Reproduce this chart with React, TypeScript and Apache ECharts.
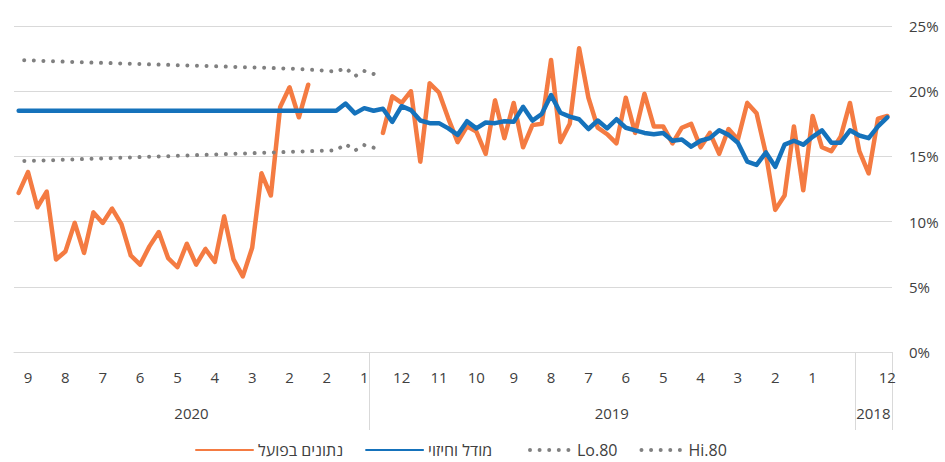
import React, { useEffect, useRef } from "react";
import * as echarts from "echarts";

// Weekly data, chronological: index 0 = first week of Dec 2018 (drawn at the right, axis is reversed)
const actual: (number | null)[] = [
  18.1, 17.9, 13.7, 15.4, 19.1, 16.5, 15.4, 15.7, 18.1, 12.4,
  17.3, 12.0, 10.9, 15.2, 18.3, 19.1, 16.3, 17.1, 15.2, 16.8,
  15.7, 17.5, 17.2, 16.0, 17.3, 17.3, 19.8, 16.8, 19.5, 16.0,
  16.7, 17.2, 19.5, 23.3, 17.5, 16.1, 22.4, 17.5, 17.4, 15.7,
  19.1, 16.4, 19.3, 15.2, 16.9, 17.3, 16.1, 17.9, 19.9, 20.6,
  14.6, 20.0, 19.1, 19.6, 16.8, null, null, null, null, null,
  null, null, 20.5, 18.0, 20.3, 18.8, 12.0, 13.7, 8.0, 5.8,
  7.1, 10.4, 6.9, 7.9, 6.7, 8.3, 6.5, 7.2, 9.2, 8.1,
  6.7, 7.4, 9.8, 11.0, 9.9, 10.7, 7.6, 9.9, 7.7, 7.1,
  12.3, 11.1, 13.8, 12.2,
];

const model: number[] = [
  18.0, 17.3, 16.4, 16.6, 17.0, 16.05, 16.05, 17.0, 16.5, 15.9,
  16.2, 15.9, 14.2, 15.3, 14.35, 14.6, 16.05, 16.65, 17.0, 16.4,
  16.2, 15.75, 16.3, 16.2, 16.8, 16.7, 16.8, 17.0, 17.2, 17.85,
  17.15, 17.75, 17.1, 17.85, 18.05, 18.35, 19.7, 18.25, 17.75, 18.8,
  17.65, 17.7, 17.55, 17.6, 17.15, 17.7, 16.65, 17.15, 17.55, 17.55,
  17.75, 18.55, 18.85, 17.65, 18.65, 18.5, 18.7, 18.3, 19.05, 18.5,
  18.5, 18.5, 18.5, 18.5, 18.5, 18.5, 18.5, 18.5, 18.5, 18.5,
  18.5, 18.5, 18.5, 18.5, 18.5, 18.5, 18.5, 18.5, 18.5, 18.5,
  18.5, 18.5, 18.5, 18.5, 18.5, 18.5, 18.5, 18.5, 18.5, 18.5,
  18.5, 18.5, 18.5, 18.5,
];

// Forecast bands start at index 55
const bandStart = 55;
const hi80Values: number[] = [
  21.32, 21.55, 21.15, 21.78, 21.50, 21.56, 21.62, 21.66, 21.70, 21.73,
  21.76, 21.78, 21.80, 21.82, 21.84, 21.87, 21.89, 21.91, 21.93, 21.95,
  21.97, 21.99, 22.02, 22.04, 22.06, 22.08, 22.10, 22.13, 22.15, 22.17,
  22.19, 22.22, 22.24, 22.26, 22.29, 22.31, 22.34, 22.37, 22.40,
];
const lo80Values: number[] = [
  15.67, 15.87, 15.45, 15.95, 15.47, 15.44, 15.42, 15.40, 15.37, 15.35,
  15.32, 15.30, 15.27, 15.25, 15.22, 15.20, 15.17, 15.15, 15.12, 15.10,
  15.07, 15.05, 15.02, 15.00, 14.97, 14.95, 14.92, 14.90, 14.87, 14.85,
  14.82, 14.80, 14.77, 14.75, 14.72, 14.70, 14.68, 14.66, 14.65,
];

const monthTickIndex = [0, 8, 12, 16, 20, 24, 28, 32, 36, 40, 44, 48, 52, 56, 60, 64, 68, 72, 76, 80, 84, 88, 92];
const monthTickText = ["12", "1", "2", "3", "4", "5", "6", "7", "8", "9", "10", "11", "12", "1", "2", "2", "3", "4", "5", "6", "7", "8", "9"];

const yearNames = ["2018", "2019", "2020"];
const yearFirst = [0, 4, 56];
const yearLast = [3, 55, 93];

const seriesNames = ["נתונים בפועל", "מודל וחיזוי", "Lo.80", "Hi.80"];

const FONT = '"Open Sans", "Liberation Sans", "DejaVu Sans", sans-serif';
const TEXT = "#404040";
const GRID = "#d9d9d9";

export default function App() {
  const ref = useRef<HTMLDivElement>(null);

  useEffect(() => {
    document.body.style.margin = "0";
    const chart = echarts.init(ref.current!, null, { renderer: "svg" });
    const n = model.length;
    const categories = Array.from({ length: n }, (_, i) => {
      const k = monthTickIndex.indexOf(i);
      return k >= 0 ? monthTickText[k] : "";
    });
    const pad = (vals: number[]) =>
      Array.from({ length: n }, (_, i) => (i >= bandStart ? vals[i - bandStart] : null));
    const hi80 = pad(hi80Values);
    const lo80 = pad(lo80Values);

    const dotted = {
      color: "#808080",
      width: 4,
      type: [0.001, 9.6] as number[],
      cap: "round" as const,
    };

    const legendBase = {
      top: 442,
      padding: 0,
      itemHeight: 14,
      itemGap: 22,
      itemStyle: { opacity: 0 },
      textStyle: { color: TEXT, fontSize: 16, fontFamily: FONT },
    };

    chart.setOption({
      animation: false,
      textStyle: { fontFamily: FONT },
      grid: { left: 14, right: 53, top: 26, bottom: 110, containLabel: false },
      legend: [
        {
          ...legendBase,
          data: seriesNames.slice(0, 2),
          left: 195,
          itemWidth: 57,
        },
        {
          ...legendBase,
          data: seriesNames.slice(2),
          left: 528,
          itemWidth: 42,
          lineStyle: { width: 4 },
        },
      ],
      xAxis: {
        type: "category",
        data: categories,
        inverse: true,
        boundaryGap: true,
        axisLine: { show: true, lineStyle: { color: GRID, width: 1 } },
        axisTick: { show: false },
        axisLabel: { interval: 0, color: TEXT, fontSize: 15, margin: 17, fontFamily: FONT },
        splitLine: { show: false },
      },
      yAxis: {
        type: "value",
        position: "right",
        min: 0,
        max: 25,
        interval: 5,
        axisLine: { show: false },
        axisTick: { show: false },
        axisLabel: {
          formatter: "{value}%",
          color: TEXT,
          fontSize: 15,
          margin: 17,
          fontFamily: FONT,
        },
        splitLine: { lineStyle: { color: GRID, width: 1 } },
      },
      series: [
        {
          name: seriesNames[0],
          type: "line",
          data: actual,
          symbol: "none",
          connectNulls: false,
          lineStyle: { color: "#F47B42", width: 4.5, join: "round", cap: "round" },
          itemStyle: { color: "#F47B42" },
          z: 2,
        },
        {
          name: seriesNames[1],
          type: "line",
          data: model,
          symbol: "none",
          lineStyle: { color: "#1572BB", width: 4.5, join: "round", cap: "round" },
          itemStyle: { color: "#1572BB" },
          z: 3,
        },
        {
          name: seriesNames[2],
          type: "line",
          data: lo80,
          symbol: "none",
          lineStyle: dotted,
          itemStyle: { color: "#808080" },
          z: 4,
        },
        {
          name: seriesNames[3],
          type: "line",
          data: hi80,
          symbol: "none",
          lineStyle: dotted,
          itemStyle: { color: "#808080" },
          z: 4,
        },
      ],
    });

    const px = (i: number) => chart.convertToPixel({ xAxisIndex: 0 }, i) as number;
    const step = Math.abs(px(1) - px(0));
    const y0 = chart.convertToPixel({ yAxisIndex: 0 }, 0) as number;
    const lineBottom = y0 + 78;

    const boundaries: number[] = [];
    for (let g = 0; g < yearNames.length; g++) {
      boundaries.push(px(yearFirst[g]) + step / 2);
    }

    const graphics: any[] = boundaries.map((x) => ({
      type: "line",
      silent: true,
      shape: { x1: Math.round(x) + 0.5, y1: y0, x2: Math.round(x) + 0.5, y2: lineBottom },
      style: { stroke: GRID, lineWidth: 1 },
    }));

    yearNames.forEach((name, g) => {
      const xc = (px(yearFirst[g]) + px(yearLast[g])) / 2;
      graphics.push({
        type: "text",
        silent: true,
        x: xc,
        y: y0 + 61,
        style: {
          text: name,
          fill: TEXT,
          font: `15px ${FONT}`,
          align: "center",
          verticalAlign: "middle",
        },
      });
    });

    chart.setOption({ graphic: graphics });

    return () => chart.dispose();
  }, []);

  return (
    <div
      ref={ref}
      style={{ position: "absolute", left: 0, top: 0, width: 945, height: 462 }}
    />
  );
}
